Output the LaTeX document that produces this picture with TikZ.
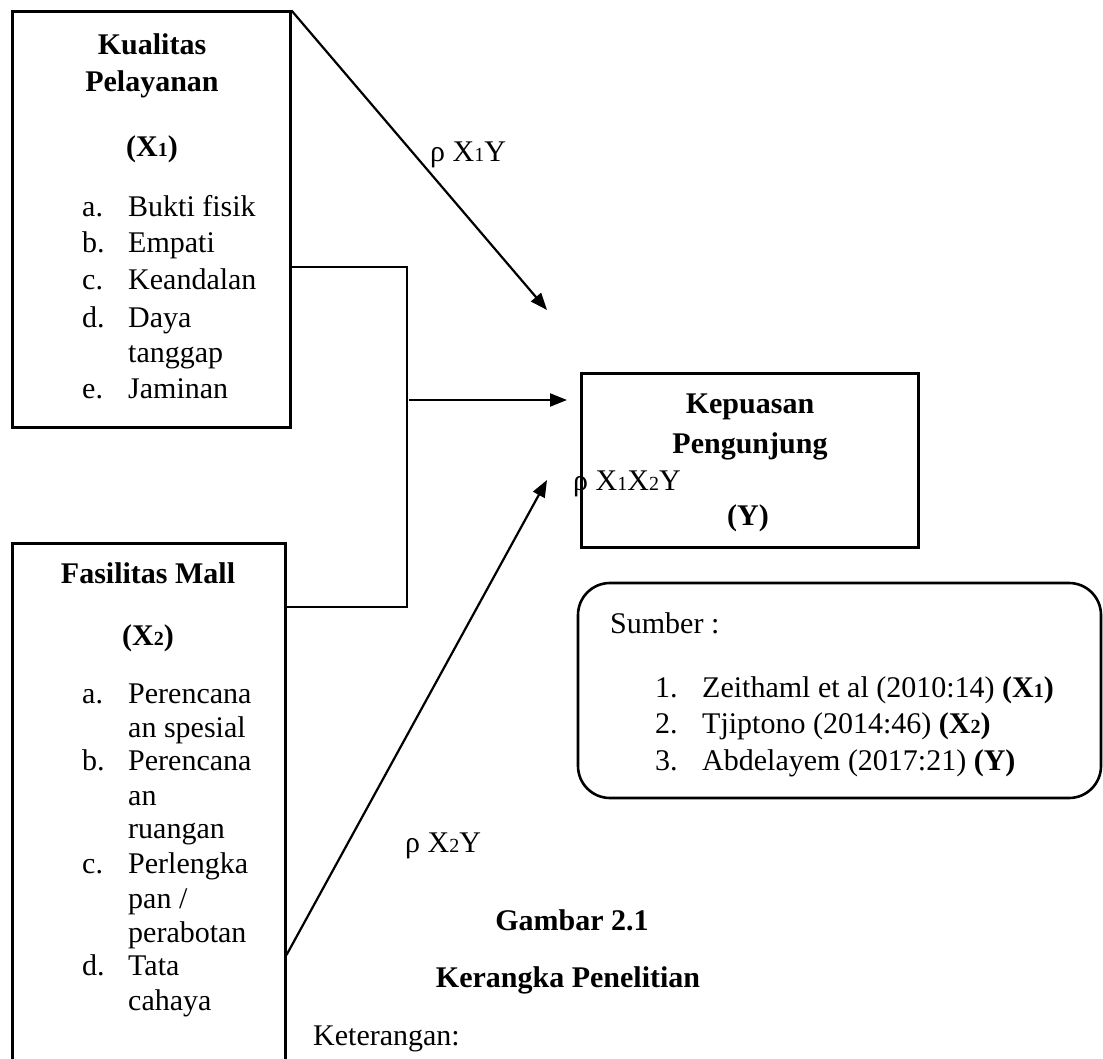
\documentclass[tikz,border=0pt]{standalone}
\usepackage{fontspec}
\setmainfont{Liberation Serif}
\usetikzlibrary{arrows.meta}
\newcommand{\smalldigit}[1]{{\fontsize{20}{24}\selectfont #1}}
\begin{document}
\begin{tikzpicture}[x=1pt, y=-1pt,
    txt/.style={anchor=base west, inner sep=0pt, font=\fontsize{30}{36}\selectfont},
    ttl/.style={anchor=base, inner sep=0pt, font=\fontsize{30}{36}\selectfont\bfseries},
    box/.style={draw, line width=3pt, inner sep=0pt},
    link/.style={line width=2.2pt},
    arr/.style={line width=2.2pt, -{Triangle[length=17pt,width=13pt]}}]

\useasboundingbox (0,0) rectangle (1103,1059);
\clip (0,0) rectangle (1103,1059);

% -----------------------------
% Boxes
% -----------------------------
\node[box, minimum width=278pt, minimum height=415pt] (x1box) at (151,219.5) {};
\node[box, minimum width=273pt, minimum height=560pt] (x2box) at (148.5,823) {};   % runs off the page
\node[box, minimum width=337pt, minimum height=174pt] (ybox) at (749.5,460) {};
\node[draw, line width=2.6pt, rounded corners=32pt, inner sep=0pt,
      minimum width=523pt, minimum height=215pt] (src) at (839.5,690.5) {};

% -----------------------------
% Kualitas Pelayanan (X1)
% -----------------------------
\node[ttl] (x1t1) at (152,55) {Kualitas};
\node[ttl] (x1t2) at (152,92) {Pelayanan};
\node[ttl] (x1t3) at (152,157) {(X\smalldigit{1})};
\foreach \m/\t/\yy [count=\i] in {a./Bukti fisik/217, b./Empati/253, c./Keandalan/290,
                                  d./Daya/327, /tanggap/362, e./Jaminan/398} {
    \node[txt] (x1m\i) at (82,\yy) {\m};
    \node[txt] (x1i\i) at (128,\yy) {\t};
}

% -----------------------------
% Fasilitas Mall (X2)
% -----------------------------
\node[ttl] (x2t1) at (148,583) {Fasilitas Mall};
\node[ttl] (x2t2) at (148,645) {(X\smalldigit{2})};
\foreach \m/\t/\yy [count=\i] in {a./Perencana/703, /an spesial/737, b./Perencana/770,
                                  /an/805, /ruangan/838, c./Perlengka/873, /pan \slash/908,
                                  /perabotan/942, d./Tata/975, /cahaya/1010} {
    \node[txt] (x2m\i) at (82,\yy) {\m};
    \node[txt] (x2i\i) at (128,\yy) {\t};
}

% -----------------------------
% Kepuasan Pengunjung (Y)
% -----------------------------
\node[ttl] (yt1) at (750,413) {Kepuasan};
\node[ttl] (yt2) at (750,453) {Pengunjung};
\node[ttl] (yt3) at (748,525) {(Y)};

% -----------------------------
% Sumber
% -----------------------------
\node[txt] (s0) at (610,633) {Sumber :};
\node[txt] (sn1) at (655,697) {1.};
\node[txt] (sn2) at (655,733) {2.};
\node[txt] (sn3) at (655,770) {3.};
\node[txt] (s1) at (702,697) {Zeithaml et al (2010:14) \textbf{(X\smalldigit{1})}};
\node[txt] (s2) at (702,733) {Tjiptono (2014:46) \textbf{(X\smalldigit{2})}};
\node[txt] (s3) at (702,770) {Abdelayem (2017:21) \textbf{(Y)}};

% -----------------------------
% Connectors
% -----------------------------
\coordinate (jtop) at (407,267);
\coordinate (jmid) at (409,400);
\coordinate (jbot) at (407,607);
\coordinate (tip1) at (547,310);
\coordinate (tip2) at (567,400);
\coordinate (tip3) at (547,480);
\coordinate (x2out) at (x2box.east |- 0,955);

\draw[link] (x1box.east |- jtop) -- (jtop) -- (jbot) -- (x2box.east |- jbot);
\draw[arr] (x1box.north east) -- (tip1);
\draw[arr] (jmid) -- (tip2);
\draw[arr] (x2out) -- (tip3);

% -----------------------------
% Labels
% -----------------------------
\node[txt] (r1) at (430,162) {ρ X\smalldigit{1}Y};
\node[txt] (r12) at (573,490) {ρ X\smalldigit{1}X\smalldigit{2}Y};
\node[txt] (r2) at (405,852) {ρ X\smalldigit{2}Y};
\node[ttl] (cap1) at (572,930) {Gambar 2.1};
\node[ttl] (cap2) at (568,987) {Kerangka Penelitian};
\node[txt] (ket) at (313,1045) {Keterangan:};

\end{tikzpicture}
\end{document}
